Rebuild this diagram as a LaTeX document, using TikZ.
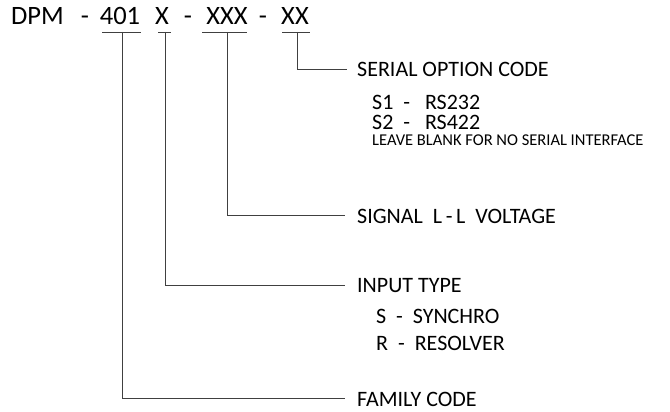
\documentclass[tikz,border=0pt]{standalone}
\usepackage{fontspec}
\setmainfont{Carlito}
\tikzset{
  code/.style={anchor=base,inner sep=0pt,font=\fontsize{26.5}{30}\selectfont},
  lbl/.style={anchor=base west,inner sep=0pt,font=\fontsize{22}{26}\selectfont},
  note/.style={anchor=base west,inner sep=0pt,font=\fontsize{16.5}{19}\selectfont},
  lead/.style={line width=0.9pt,black!75},
}
\begin{document}
\begin{tikzpicture}[x=1pt,y=-1pt]
  \useasboundingbox (0,0) rectangle (670,412);
  % part number
  \node[code] (dpm) at (37.5,25) {DPM};
  \node[code] (h1) at (85,25) {-};
  \node[code] (fam) at (120,25) {401};
  \node[code] (inp) at (162,25) {X};
  \node[code] (h2) at (188,25) {-};
  \node[code] (sig) at (227,25) {XXX};
  \node[code] (h3) at (263,25) {-};
  \node[code] (ser) at (295,25) {XX};
  \foreach \a/\b in {102/141, 158/171, 202/247, 282/310}
    \draw[lead] (\a,32) -- (\b,32);
  \coordinate (tfam) at (122,32);
  \coordinate (tinp) at (165,32);
  \coordinate (tsig) at (227,32);
  \coordinate (tser) at (297,32);
  % descriptions
  \node[lbl] (serial) at (357,77) {SERIAL OPTION CODE};
  \node[lbl] (s1) at (372,110) {S1\ \ -\ \ \ RS232};
  \node[lbl] (s2) at (372,129) {S2\ \ -\ \ \ RS422};
  \node[note] (blank) at (372,145) {LEAVE BLANK FOR NO SERIAL INTERFACE};
  \node[lbl] (volt) at (357,223) {SIGNAL\ \ L\,-\,L\ \ VOLTAGE};
  \node[lbl] (input) at (357,292) {INPUT TYPE};
  \node[lbl] (syn) at (376,323) {S\ \ -\ \ SYNCHRO};
  \node[lbl] (res) at (376,350) {R\ \ -\ \ RESOLVER};
  \node[lbl] (family) at (357,406) {FAMILY CODE};
  \draw[lead] (tser) |- ([xshift=-10pt]serial.west);
  \draw[lead] (tsig) |- ([xshift=-12pt]volt.west);
  \draw[lead] (tinp) |- ([xshift=-12pt]input.west);
  \draw[lead] (tfam) |- ([xshift=-12pt]family.west);
\end{tikzpicture}
\end{document}
